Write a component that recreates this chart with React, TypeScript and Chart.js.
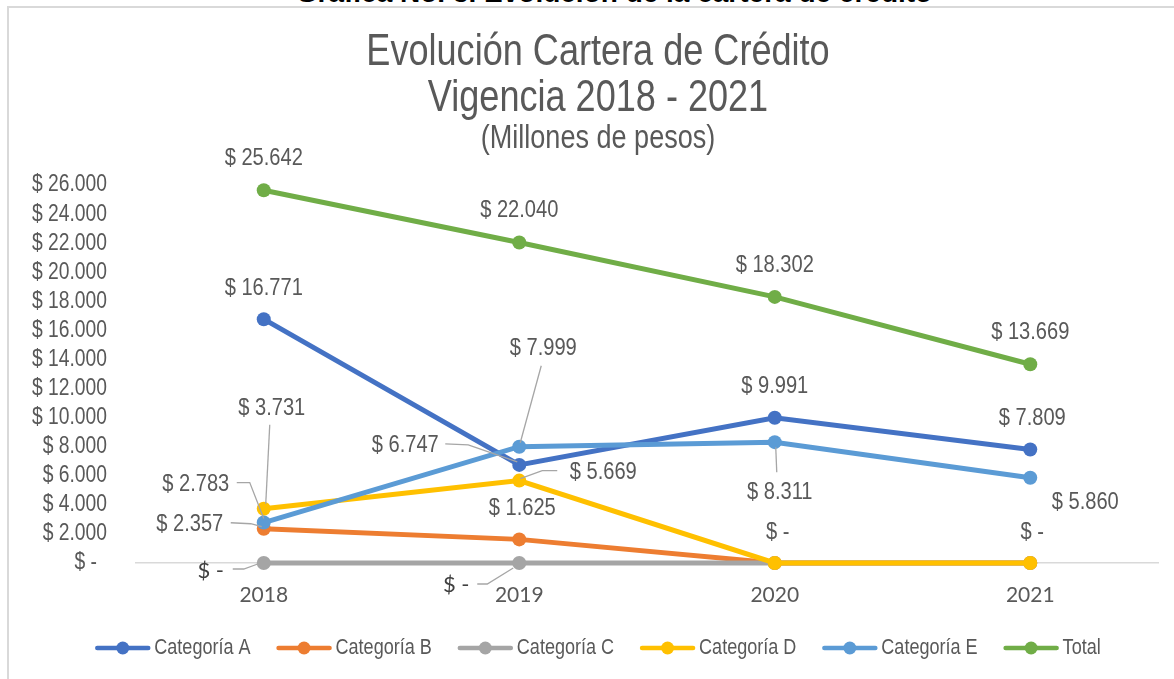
import React, { useEffect, useRef } from 'react';
import { Chart, registerables } from 'chart.js';

Chart.register(...registerables);

// ---------- data ----------
const years = ['2018', '2019', '2020', '2021'];
const seriesNames = ['Categoría A', 'Categoría B', 'Categoría C', 'Categoría D', 'Categoría E', 'Total'];
const catA = [16771, 6747, 9991, 7809];
const catB = [2357, 1625, 0, 0];
const catC = [0, 0, 0, 0];
const catD = [3731, 5669, 0, 0];
const catE = [2783, 7999, 8311, 5860];
const total = [25642, 22040, 18302, 13669];
const yMin = 0;
const yMax = 26000;
const yStep = 2000;
const pageCaption = 'Gráfica No. 3. Evolución de la cartera de crédito';
const titleLines = ['Evolución Cartera de Crédito', 'Vigencia 2018 - 2021'];
const subtitleText = '(Millones de pesos)';

// ---------- styles ----------
const colors = ['#4472C4', '#ED7D31', '#A5A5A5', '#FFC000', '#5B9BD5', '#70AD47'];
const SANS = "'Liberation Sans', Arial, sans-serif";
const CAL = "Lato, 'Open Sans', sans-serif";
const NARROW_X = 0.82;
const TEXT = '#595959';
const LEADER = '#A6A6A6';

type Placement = { dx: number; dy: number; leader?: [number, number][]; alt?: boolean } | null;

// label offsets relative to each point (pixels)
const placements: Placement[][] = [
  [
    { dx: 0, dy: -31 },
    { dx: -114, dy: -20, leader: [[-74, -21], [-51, -20], [-2, -3]] },
    { dx: 0, dy: -31 },
    { dx: 2, dy: -31 },
  ],
  [
    { dx: -74, dy: -4, leader: [[-33, -6], [-13, -5], [-2, -2]] },
    { dx: 3, dy: -31 },
    { dx: 3, dy: -31 },
    { dx: 2, dy: -31 },
  ],
  [
    { dx: -53, dy: 8, alt: true, leader: [[-31, 6], [-20, 6], [-6, 1]] },
    { dx: -63, dy: 22, alt: true, leader: [[-42, 21], [-32, 21], [-6, 5]] },
    null,
    null,
  ],
  [
    { dx: 8, dy: -101, leader: [[6, -84], [2, -5]] },
    { dx: 84, dy: -8, leader: [[38, -10], [23, -10], [1, -2]] },
    null,
    null,
  ],
  [
    { dx: -68, dy: -38, leader: [[-27, -40], [-14, -40], [0, -4]] },
    { dx: 24, dy: -98, leader: [[22, -81], [1, -4]] },
    { dx: 5, dy: 50, leader: [[2, 30], [1, 5]] },
    { dx: 55, dy: 24 },
  ],
  [
    { dx: 0, dy: -32 },
    { dx: 0, dy: -32 },
    { dx: 0, dy: -32 },
    { dx: 0, dy: -32 },
  ],
];

const fmt = (n: number) =>
  n === 0 ? '$ -' : '$ ' + String(Math.round(n)).replace(/\B(?=(\d{3})+(?!\d))/g, '.');

const CENTER_X = 598;

function narrowText(
  ctx: CanvasRenderingContext2D,
  text: string,
  x: number,
  y: number,
  size: number,
  align: CanvasTextAlign,
  color: string
) {
  ctx.save();
  ctx.translate(x, y);
  ctx.scale(NARROW_X, 1);
  ctx.font = `${size}px ${SANS}`;
  ctx.textAlign = align;
  ctx.textBaseline = 'middle';
  ctx.fillStyle = color;
  ctx.fillText(text, 0, 0);
  ctx.restore();
}

function narrowWidth(ctx: CanvasRenderingContext2D, text: string, size: number) {
  ctx.save();
  ctx.font = `${size}px ${SANS}`;
  const w = ctx.measureText(text).width * NARROW_X;
  ctx.restore();
  return w;
}

const labelPlugin = {
  id: 'customLabels',
  afterDatasetsDraw(chart: any) {
    const ctx = chart.ctx as CanvasRenderingContext2D;
    chart.data.datasets.forEach((ds: any, i: number) => {
      const meta = chart.getDatasetMeta(i);
      meta.data.forEach((el: any, j: number) => {
        const p = placements[i][j];
        if (!p) return;
        const px = el.x;
        const py = el.y;
        if (p.leader) {
          ctx.save();
          ctx.strokeStyle = LEADER;
          ctx.lineWidth = 1.3;
          ctx.beginPath();
          p.leader.forEach((pt, k) => {
            if (k === 0) ctx.moveTo(px + pt[0], py + pt[1]);
            else ctx.lineTo(px + pt[0], py + pt[1]);
          });
          ctx.stroke();
          ctx.restore();
        }
        if (p.alt) {
          ctx.save();
          ctx.textAlign = 'center';
          ctx.textBaseline = 'middle';
          ctx.font = `22px ${CAL}`;
          ctx.fillStyle = '#404040';
          ctx.fillText(fmt(ds.data[j]), px + p.dx, py + p.dy);
          ctx.restore();
        } else {
          narrowText(ctx, fmt(ds.data[j]), px + p.dx, py + p.dy, 24.5, 'center', TEXT);
        }
      });
    });
  },
  afterDraw(chart: any) {
    const ctx = chart.ctx as CanvasRenderingContext2D;
    // y axis tick labels
    const ys = chart.scales.y;
    for (let v = yMin; v <= yMax; v += yStep) {
      const py = ys.getPixelForValue(v);
      if (v === 0) narrowText(ctx, '$ -', 97, py, 23.5, 'right', TEXT);
      else narrowText(ctx, fmt(v), 107, py, 23.5, 'right', TEXT);
    }
    // title
    narrowText(ctx, titleLines[0], CENTER_X, 53, 44, 'center', TEXT);
    narrowText(ctx, titleLines[1], CENTER_X, 99, 44, 'center', TEXT);
    narrowText(ctx, subtitleText, CENTER_X, 139, 33, 'center', TEXT);

    // legend
    const fs = 22;
    const markerW = 55;
    const gapText = 4;
    const gapItem = 26;
    const widths = seriesNames.map((n) => narrowWidth(ctx, n, fs));
    const totalW =
      widths.reduce((a, b) => a + b, 0) + seriesNames.length * (markerW + gapText) + (seriesNames.length - 1) * gapItem;
    let x = CENTER_X - totalW / 2;
    const y = 648;
    seriesNames.forEach((n, i) => {
      ctx.save();
      ctx.strokeStyle = colors[i];
      ctx.lineWidth = 4.5;
      ctx.lineCap = 'round';
      ctx.beginPath();
      ctx.moveTo(x + 2, y);
      ctx.lineTo(x + markerW - 2, y);
      ctx.stroke();
      ctx.fillStyle = colors[i];
      ctx.beginPath();
      ctx.arc(x + markerW / 2, y, 6.5, 0, Math.PI * 2);
      ctx.fill();
      ctx.restore();
      narrowText(ctx, n, x + markerW + gapText, y, fs, 'left', TEXT);
      x += markerW + gapText + widths[i] + gapItem;
    });
  },
};

export default function App() {
  const ref = useRef<HTMLCanvasElement | null>(null);

  useEffect(() => {
    if (!ref.current) return;
    const seriesData = [catA, catB, catC, catD, catE, total];
    const chart = new Chart(ref.current, {
      type: 'line',
      data: {
        labels: years,
        datasets: seriesData.map((d, i) => ({
          label: seriesNames[i],
          data: d,
          borderColor: colors[i],
          backgroundColor: colors[i],
          pointBackgroundColor: colors[i],
          pointBorderColor: colors[i],
          borderWidth: 5,
          pointRadius: 7,
          pointBorderWidth: 0,
          tension: 0,
          clip: false as any,
          order: seriesData.length - i,
        })),
      },
      options: {
        responsive: false,
        animation: false,
        devicePixelRatio: 1,
        layout: { padding: { top: 185, right: 16, bottom: 0, left: 0 } },
        plugins: {
          legend: { display: false },
          title: { display: false },
          tooltip: { enabled: false },
        },
        scales: {
          x: {
            type: 'category',
            offset: true,
            grid: { display: false, drawTicks: false },
            border: { display: true, color: '#D9D9D9', width: 1.5 },
            ticks: { color: TEXT, font: { family: CAL, size: 21 }, padding: 20 },
            afterFit: (s: any) => {
              s.height = 116;
            },
          },
          y: {
            min: yMin,
            max: yMax,
            grid: { display: false, drawTicks: false },
            border: { display: false },
            ticks: { display: false, stepSize: yStep },
            afterFit: (s: any) => {
              s.width = 136;
            },
          },
        },
      },
      plugins: [labelPlugin],
    });
    return () => chart.destroy();
  }, []);

  return (
    <div
      style={{
        position: 'fixed',
        left: 0,
        top: 0,
        width: 1174,
        height: 679,
        overflow: 'hidden',
        background: '#fff',
      }}
    >
      <div
        style={{
          position: 'absolute',
          left: 0,
          width: 1228,
          top: -23,
          textAlign: 'center',
          font: "bold 28px 'Liberation Sans', Arial, sans-serif",
          color: '#000',
          whiteSpace: 'nowrap',
          lineHeight: '32px',
        }}
      >
        {pageCaption}
      </div>
      <div
        style={{
          position: 'absolute',
          left: 7,
          top: 6,
          width: 1200,
          height: 700,
          border: '2px solid #D9D9D9',
        }}
      />
      <canvas
        ref={ref}
        width={1174}
        height={679}
        style={{ position: 'absolute', left: 0, top: 0, width: 1174, height: 679 }}
      />
    </div>
  );
}
